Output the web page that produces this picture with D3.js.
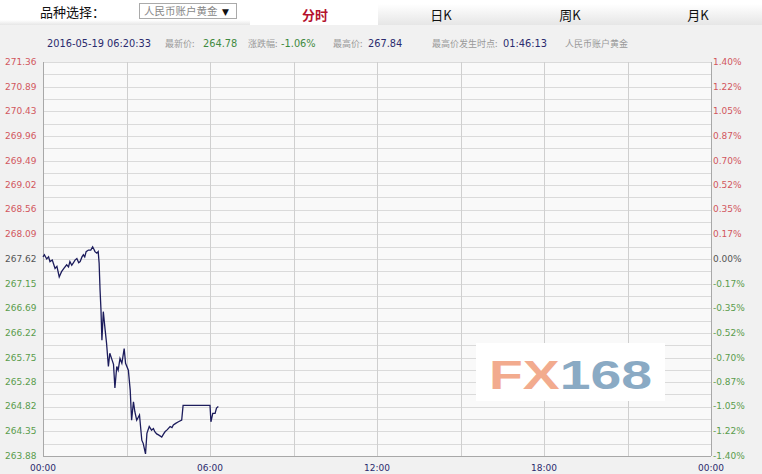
<!DOCTYPE html>
<html>
<head>
<meta charset="utf-8">
<script src="https://cdn.jsdelivr.net/npm/d3@7"></script>
<style>
  body { margin: 0; background: #f1f1f1; }
  svg { display: block; }
</style>
</head>
<body>
<svg id="chart" width="762" height="474"></svg>
<script>
// intraday minutes since 00:00 and price
const minutes = [0, 3, 8, 12, 15, 20, 26, 30, 35, 38, 40, 45, 51, 55, 58, 62, 65, 69, 73, 77, 80, 84, 87, 90, 93, 98, 103, 107, 110, 112, 116, 119,
  121, 123, 125, 127, 130, 134, 137, 141, 144, 149, 152, 155, 159, 162, 166, 170, 175, 178, 184, 188, 191, 195, 198, 202, 208, 213, 216, 221,
  224, 229, 234, 238, 241, 245, 249, 256, 260, 263, 268, 274, 278, 281, 286, 292, 299, 302, 360, 362, 366, 371, 374, 378]
const prices = [267.66, 267.70, 267.62, 267.66, 267.57, 267.60, 267.44, 267.48, 267.28, 267.34, 267.38, 267.44, 267.51, 267.47, 267.57, 267.50, 267.54, 267.60, 267.63, 267.55, 267.57, 267.66, 267.70, 267.66, 267.76, 267.79, 267.79, 267.85, 267.80, 267.76, 267.73, 267.76,
  267.54, 267.03, 266.65, 266.08, 266.62, 266.27, 266.02, 265.58, 265.83, 265.70, 265.62, 265.17, 265.58, 265.51, 265.73, 265.64, 265.92, 265.64, 265.51, 265.13, 264.56, 264.91, 264.72, 264.56, 264.66, 264.18, 264.12, 263.92,
  264.31, 264.44, 264.37, 264.40, 264.34, 264.30, 264.28, 264.24, 264.30, 264.34, 264.38, 264.44, 264.42, 264.47, 264.50, 264.53, 264.56, 264.84, 264.84, 264.53, 264.69, 264.69, 264.79, 264.82]

const priceTicks = [271.36, 270.89, 270.43, 269.96, 269.49, 269.02, 268.56, 268.09, 267.62, 267.15, 266.69, 266.22, 265.75, 265.28, 264.82, 264.35, 263.88]
const pctTicks = ['1.40%', '1.22%', '1.05%', '0.87%', '0.70%', '0.52%', '0.35%', '0.17%', '0.00%', '-0.17%', '-0.35%', '-0.52%', '-0.70%', '-0.87%', '-1.05%', '-1.22%', '-1.40%']
const timeLabels = ['00:00', '06:00', '12:00', '18:00', '00:00']
const tabs = ['分时', '日K', '周K', '月K']
const prevClose = 267.62

const svg = d3.select('#chart')
const plotLeft = 43, plotRight = 711, plotTop = 62, plotBottom = 456

const x = d3.scaleLinear().domain([0, 1440]).range([plotLeft, plotRight])
const y = d3.scaleLinear().domain([263.88, 271.36]).range([plotBottom, plotTop])

const red = '#d2575e', green = '#5a9c4c', navy = '#2b2b6e'
const numFont = 'DejaVu Sans, Verdana, sans-serif'
const cjk = '"Noto Sans CJK SC", sans-serif'

// top bar
const defs = svg.append('defs')
const grad = defs.append('linearGradient').attr('id', 'tabgrad')
    .attr('x1', 0).attr('y1', 0).attr('x2', 0).attr('y2', 1)
grad.append('stop').attr('offset', '0%').attr('stop-color', '#ffffff')
grad.append('stop').attr('offset', '100%').attr('stop-color', '#e6e6e6')

svg.append('rect').attr('x', 0).attr('y', 0).attr('width', 762).attr('height', 25).attr('fill', '#fff')
svg.append('rect').attr('x', 378).attr('y', 4).attr('width', 384).attr('height', 21).attr('fill', 'url(#tabgrad)')
svg.append('rect').attr('x', 0).attr('y', 20).attr('width', 250).attr('height', 5).attr('fill', 'url(#tabgrad)')

svg.append('text').attr('x', 40).attr('y', 17).attr('font-family', cjk).attr('font-size', 13)
    .attr('fill', '#111').text('品种选择：')
svg.append('rect').attr('x', 139.5).attr('y', 3.5).attr('width', 97).attr('height', 15)
    .attr('fill', '#fff').attr('stroke', '#aaa')
svg.append('text').attr('x', 144).attr('y', 15).attr('font-family', cjk).attr('font-size', 10.5)
    .attr('fill', '#888').text('人民币账户黄金')
svg.append('text').attr('x', 222).attr('y', 15).attr('font-family', numFont).attr('font-size', 9)
    .attr('fill', '#111').text('▼')

const tabX = [315, 441, 570, 698]
svg.selectAll('.tab').data(tabs).join('text')
    .attr('class', 'tab')
    .attr('x', (d, i) => tabX[i]).attr('y', 20)
    .attr('text-anchor', 'middle')
    .attr('font-family', cjk).attr('font-size', 13)
    .attr('font-weight', (d, i) => i === 0 ? 'bold' : 'normal')
    .attr('fill', (d, i) => i === 0 ? '#b5122e' : '#111')
    .text(d => d)

// info line
const info = [
    { x: 47, t: '2016-05-19 06:20:33', c: navy, f: numFont, s: 9.8 },
    { x: 165, t: '最新价:', c: '#999', f: cjk, s: 9 },
    { x: 203, t: '264.78', c: '#3f8a3f', f: numFont, s: 9.8 },
    { x: 248, t: '涨跌幅:', c: '#999', f: cjk, s: 9 },
    { x: 281, t: '-1.06%', c: '#3f8a3f', f: numFont, s: 9.8 },
    { x: 333, t: '最高价:', c: '#999', f: cjk, s: 9 },
    { x: 368, t: '267.84', c: navy, f: numFont, s: 9.8 },
    { x: 432, t: '最高价发生时点:', c: '#999', f: cjk, s: 9 },
    { x: 503, t: '01:46:13', c: navy, f: numFont, s: 9.8 },
    { x: 565, t: '人民币账户黄金', c: '#999', f: cjk, s: 9 }
]
svg.selectAll('.info').data(info).join('text')
    .attr('class', 'info')
    .attr('x', d => d.x).attr('y', 47)
    .attr('font-family', d => d.f).attr('font-size', d => d.s)
    .attr('fill', d => d.c).text(d => d.t)

// plot area
svg.append('rect').attr('x', plotLeft).attr('y', plotTop).attr('width', plotRight - plotLeft).attr('height', plotBottom - plotTop)
    .attr('fill', '#f9f9f9')

const halfTicks = d3.range(priceTicks.length * 2 - 1).map(i => 263.88 + i * (271.36 - 263.88) / 32)
svg.append('g').selectAll('line').data(halfTicks).join('line')
    .attr('x1', plotLeft).attr('x2', plotRight)
    .attr('y1', d => Math.round(y(d)) + 0.5).attr('y2', d => Math.round(y(d)) + 0.5)
    .attr('stroke', '#dadada')

svg.append('g').selectAll('line').data(d3.range(0, 1441, 180)).join('line')
    .attr('x1', d => Math.round(x(d)) + 0.5).attr('x2', d => Math.round(x(d)) + 0.5)
    .attr('y1', plotTop).attr('y2', plotBottom)
    .attr('stroke', (d, i) => (i === 0 || i === 8) ? '#a8a8a8' : '#cfcfcf')

svg.append('line').attr('x1', plotLeft).attr('x2', plotRight).attr('y1', plotBottom + 0.5).attr('y2', plotBottom + 0.5)
    .attr('stroke', '#a8a8a8')

// watermark
svg.append('rect').attr('x', 476).attr('y', 343).attr('width', 189).attr('height', 58).attr('fill', '#fff')
const logo = svg.append('text').attr('x', 489).attr('y', 389)
    .attr('font-family', 'Liberation Sans, Arial, sans-serif').attr('font-size', 40).attr('font-weight', 'bold')
    .attr('textLength', 163).attr('lengthAdjust', 'spacingAndGlyphs')
logo.append('tspan').attr('fill', '#f2ab8e').text('FX')
logo.append('tspan').attr('fill', '#8aaac4').text('168')

// left price labels
const colorFor = v => Math.abs(v - prevClose) < 0.005 ? '#555' : (v > prevClose ? red : green)
svg.append('g').selectAll('text').data(priceTicks).join('text')
    .attr('x', 5).attr('y', d => y(d) + 3)
    .attr('font-family', numFont).attr('font-size', 9)
    .attr('fill', d => colorFor(d)).text(d => d.toFixed(2))

// right percent labels
svg.append('g').selectAll('text').data(pctTicks).join('text')
    .attr('x', 713).attr('y', (d, i) => y(priceTicks[i]) + 3)
    .attr('font-family', numFont).attr('font-size', 9)
    .attr('fill', (d, i) => colorFor(priceTicks[i])).text(d => d)

// time labels
svg.append('g').selectAll('text').data(timeLabels).join('text')
    .attr('x', (d, i) => x(i * 360)).attr('y', 471)
    .attr('text-anchor', 'middle')
    .attr('font-family', numFont).attr('font-size', 9)
    .attr('fill', navy).text(d => d)

// price line
const series = minutes.map((m, i) => ({ m, p: prices[i] }))
const line = d3.line().x(d => x(d.m)).y(d => y(d.p))
svg.append('path').datum(series)
    .attr('d', line)
    .attr('fill', 'none')
    .attr('stroke', '#1c1c5c')
    .attr('stroke-width', 1.3)
</script>
</body>
</html>
